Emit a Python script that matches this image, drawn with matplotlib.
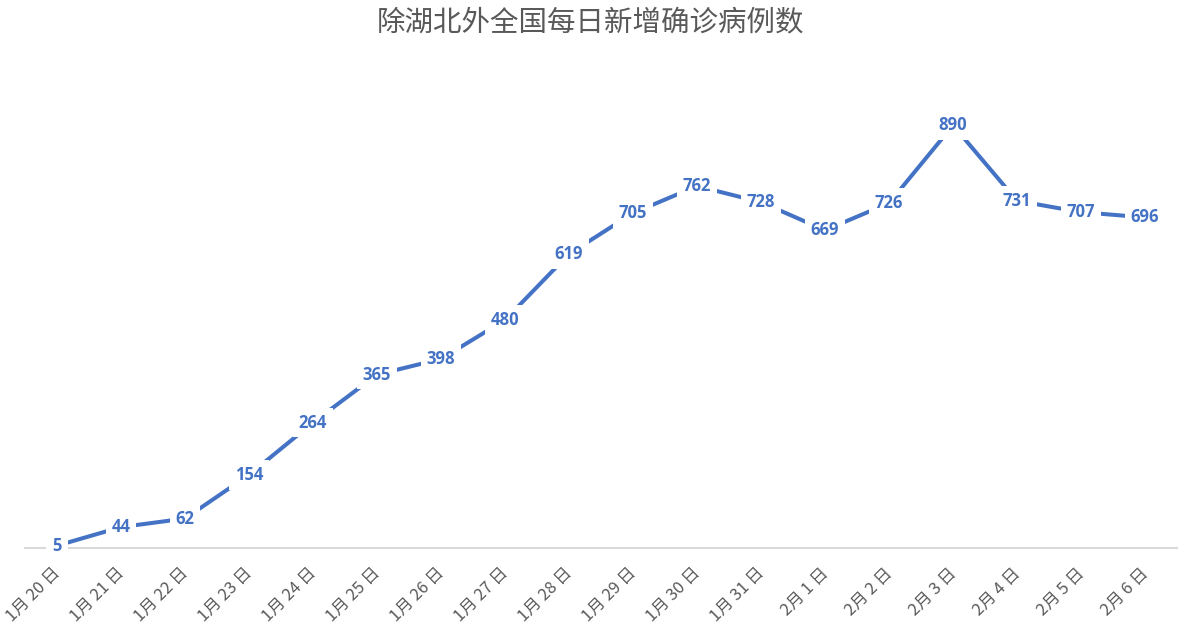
import matplotlib
matplotlib.use("Agg")
import matplotlib.pyplot as plt
from matplotlib.transforms import ScaledTranslation

plt.rcParams['font.family'] = ['Noto Sans CJK SC', 'DejaVu Sans']

dates = ["1月 20 日", "1月 21 日", "1月 22 日", "1月 23 日", "1月 24 日", "1月 25 日", "1月 26 日",
         "1月 27 日", "1月 28 日", "1月 29 日", "1月 30 日", "1月 31 日", "2月 1 日", "2月 2 日",
         "2月 3 日", "2月 4 日", "2月 5 日", "2月 6 日"]
cases = [5, 44, 62, 154, 264, 365, 398, 480, 619, 705, 762, 728, 669, 726, 890, 731, 707, 696]

W, H = 1182, 634
fig = plt.figure(figsize=(W / 100, H / 100), dpi=100)
ax = fig.add_axes([25 / W, (H - 548) / H, (1177 - 25) / W, (548 - 73) / H])

x = list(range(len(dates)))
blue = "#4472C4"
ax.plot(x, cases, color=blue, lw=2.9, solid_capstyle="butt", zorder=2)
for xi, v in zip(x, cases):
    ax.text(xi, v, str(v), ha="center", va="center", color=blue, fontsize=12,
            fontweight="bold", family=["Open Sans", "DejaVu Sans"], zorder=3,
            bbox=dict(boxstyle="square,pad=0.35", fc="white", ec="none"))

ax.set_xlim(-0.5, len(dates) - 0.5)
ax.set_ylim(0, 1000)
ax.set_yticks([])
for s in ["left", "right", "top"]:
    ax.spines[s].set_visible(False)
ax.spines["bottom"].set_color("#D9D9D9")
ax.spines["bottom"].set_linewidth(1.5)
ax.spines["bottom"].set_zorder(1)
ax.set_xticks(x)
ax.set_xticklabels(dates, rotation=45, ha="right", rotation_mode="anchor",
                   fontsize=12, color="#595959")
ax.tick_params(axis="x", length=0, pad=12)
shift = ScaledTranslation(-5 / 100, 0, fig.dpi_scale_trans)
for lbl in ax.get_xticklabels():
    lbl.set_transform(lbl.get_transform() + shift)

fig.text(0.5, 1 - 22 / H, "除湖北外全国每日新增确诊病例数", ha="center", va="center",
         fontsize=20.5, color="#595959")

fig.savefig("out.png", dpi=100)
